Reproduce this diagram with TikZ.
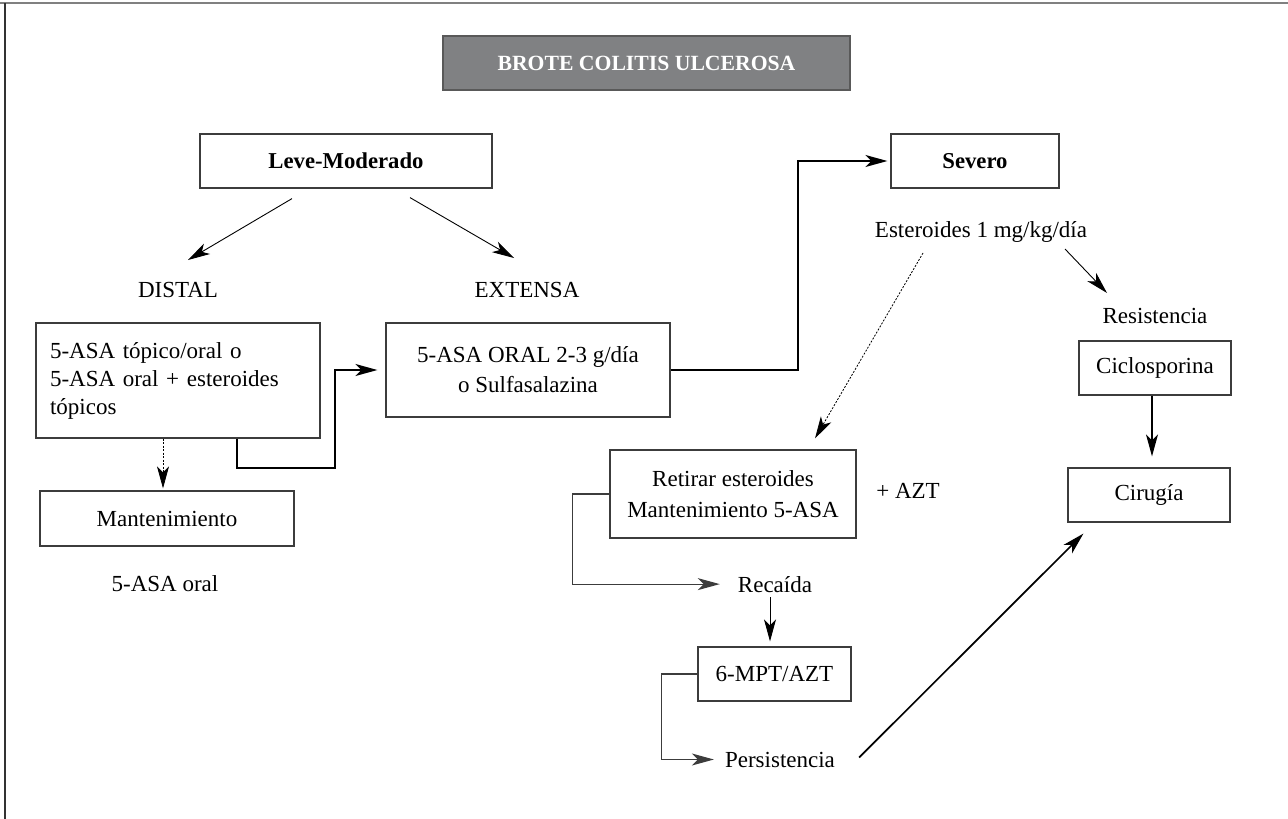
\documentclass[tikz,border=0pt]{standalone}
\usepackage{fontspec}
\setmainfont{Liberation Serif}
\usetikzlibrary{arrows.meta,calc}
\definecolor{boxline}{HTML}{3C3C3C}
\definecolor{titlefill}{HTML}{808183}
\begin{document}
\begin{tikzpicture}[x=1pt,y=-1pt,
  box/.style={draw=boxline, line width=1.2pt, inner sep=0pt, align=center, font=\fontsize{23}{30}\selectfont},
  bbox/.style={box, font=\fontsize{22.7}{28}\selectfont\bfseries},
  lbl/.style={inner sep=0pt, anchor=base, font=\fontsize{23}{28}\selectfont},
  tip/.style={-{Stealth[length=22pt,width=12pt,inset=6pt]}},
  thinarr/.style={tip, line width=0.9pt},
  dotarr/.style={tip, line width=0.8pt, dash pattern=on 2pt off 1.5pt},
  elbow/.style={tip, line width=1.8pt},
  grayel/.style={tip, line width=1.2pt, draw=boxline},
  medarr/.style={tip, line width=1.4pt},
  thickarr/.style={tip, line width=1.7pt}
]
\useasboundingbox (0,0) rectangle (1288,819);
% frame
\draw[line width=2pt, gray] (0,3) -- (1288,3);
\draw[line width=1.3pt, black!80] (5,3) -- (5,819);

% nodes
\node[box, fill=titlefill, draw=black!65, line width=1.5pt, minimum width=407, minimum height=54, text=white, font=\fontsize{21.7}{26}\selectfont\bfseries] (title) at (646.5,63) {BROTE COLITIS ULCEROSA};
\node[bbox, minimum width=292, minimum height=54] (leve) at (346,161) {Leve-Moderado};
\node[bbox, minimum width=168, minimum height=54] (severo) at (975,161) {Severo};
\node[lbl] (distal) at (178,297) {DISTAL};
\node[lbl] (extensa) at (527,297) {EXTENSA};
\node[box, minimum height=115, text width=256pt, inner xsep=14pt, align=left, font=\fontsize{23}{28}\selectfont] (topico) at (178,380.5) {5-ASA tópico/oral o\\5-ASA oral + esteroides\\tópicos};
\node[box, minimum width=284, minimum height=94] (oral) at (528,370) {5-ASA ORAL 2-3 g/día\\o Sulfasalazina};
\node[box, minimum width=254, minimum height=55] (mant) at (167,518.5) {Mantenimiento};
\node[lbl] (asaoral) at (165,591) {5-ASA oral};
\node[lbl] (ester) at (981,237) {Esteroides 1 mg/kg/día};
\node[lbl] (resist) at (1155,323) {Resistencia};
\node[box, minimum width=152, minimum height=54] (ciclo) at (1155,368) {Ciclosporina};
\node[box, minimum width=162, minimum height=54] (cirugia) at (1149,495) {Cirugía};
\node[box, minimum width=246, minimum height=88, font=\fontsize{23}{31}\selectfont] (retirar) at (733,494) {Retirar esteroides\\Mantenimiento 5-ASA};
\node[lbl] (azt) at (908,498) {+ AZT};
\node[lbl] (recaida) at (775,592) {Recaída};
\node[box, minimum width=153, minimum height=54] (mpt) at (774.5,674) {6-MPT/AZT};
\node[lbl] (persist) at (780,767) {Persistencia};

% connectors
\draw[thinarr] ($(leve.south)+(-54,10)$) -- ($(distal.base)+(10,-37)$);
\draw[thinarr] ($(leve.south)+(64,9)$) -- ($(extensa.base)+(-13,-39)$);
\draw[dotarr] ($(topico.south)+(-15,0)$) -- ($(mant.north)+(-4,-2)$);
\draw[elbow, shorten >=8pt] ($(topico.south)+(59,0)$) |- ++(98,29) |- (oral.west);
\draw[elbow, shorten >=3pt] (oral.east) -| ++(127,-209) -- (severo.west);
\draw[dotarr] ($(ester.base)+(-58,16)$) -- ($(retirar.north)+(82,-11)$);
\draw[thinarr] ($(ester.base)+(84,12)$) -- ($(resist.base)+(-48,-30)$);
\draw[medarr, shorten >=11pt] ($(ciclo.south)+(-3,0)$) -- ($(cirugia.north)+(3,0)$);
\draw[grayel, shorten >=18pt] (retirar.west) -- ++(-37,0) |- (recaida.west);
\draw[thinarr] ($(recaida.base)+(-5,5)$) -- ($(mpt.north)+(-4.5,-5)$);
\draw[grayel, shorten >=11pt] (mpt.west) -- ++(-36,0) |- (persist.west);
\draw[thickarr] ($(persist.east)+(24,-2)$) -- ($(cirugia.south west)+(16,11)$);
\end{tikzpicture}
\end{document}
